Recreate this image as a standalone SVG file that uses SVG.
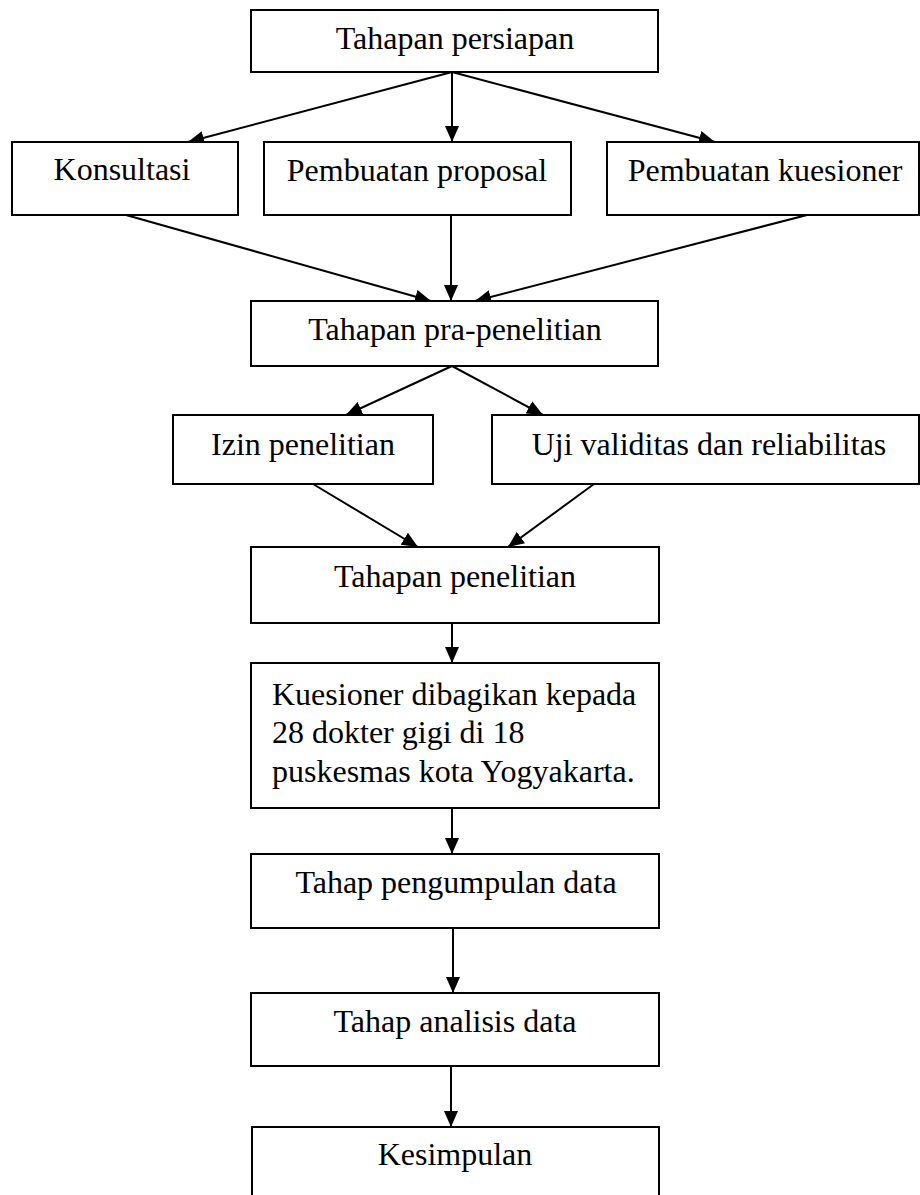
<svg xmlns="http://www.w3.org/2000/svg" width="920" height="1195" viewBox="0 0 920 1195">
<style>
.box{fill:#fff;stroke:#000;stroke-width:2}
.t{font-family:"Liberation Serif","Times New Roman",serif;font-size:32px;fill:#000;text-anchor:middle}
.tl{font-family:"Liberation Serif","Times New Roman",serif;font-size:32px;fill:#000;text-anchor:start}
.c{stroke:#000;stroke-width:2;fill:none;marker-end:url(#ah)}
</style>
<defs>
<marker id="ah" markerUnits="userSpaceOnUse" markerWidth="16" markerHeight="14" refX="16" refY="7" orient="auto">
<path d="M0,0 L16,7 L0,14 z" fill="#000"/>
</marker>
</defs>
<rect width="920" height="1195" fill="#fff"/>
<g id="connectors">
<line class="c" x1="452" y1="72" x2="188" y2="142"/>
<line class="c" x1="452" y1="72" x2="452" y2="142"/>
<line class="c" x1="452" y1="72" x2="715" y2="142"/>
<line class="c" x1="126" y1="215" x2="431" y2="301"/>
<line class="c" x1="451" y1="215" x2="451" y2="301"/>
<line class="c" x1="807" y1="215" x2="475" y2="301"/>
<line class="c" x1="452" y1="366" x2="346" y2="415"/>
<line class="c" x1="452" y1="366" x2="543" y2="415"/>
<line class="c" x1="313" y1="484" x2="418" y2="547"/>
<line class="c" x1="594" y1="484" x2="508" y2="547"/>
<line class="c" x1="452" y1="623" x2="452" y2="663"/>
<line class="c" x1="452" y1="796" x2="452" y2="854"/>
<line class="c" x1="453" y1="928" x2="453" y2="993"/>
<line class="c" x1="451" y1="1066" x2="451" y2="1127"/>
</g>
<g id="n1"><rect class="box" x="251" y="10" width="407" height="62"/><text class="t" x="455" y="49">Tahapan persiapan</text></g>
<g id="n2"><rect class="box" x="12" y="142" width="226" height="73"/><text class="t" x="122" y="180">Konsultasi</text></g>
<g id="n3"><rect class="box" x="264" y="142" width="307" height="73"/><text class="t" x="417" y="181">Pembuatan proposal</text></g>
<g id="n4"><rect class="box" x="607" y="142" width="312" height="73"/><text class="t" x="765" y="181">Pembuatan kuesioner</text></g>
<g id="n5"><rect class="box" x="251" y="301" width="407" height="65"/><text class="t" x="455" y="340">Tahapan pra-penelitian</text></g>
<g id="n6"><rect class="box" x="173" y="415" width="260" height="69"/><text class="t" x="303" y="455">Izin penelitian</text></g>
<g id="n7"><rect class="box" x="492" y="415" width="427" height="69"/><text class="t" x="709" y="455">Uji validitas dan reliabilitas</text></g>
<g id="n8"><rect class="box" x="251" y="547" width="408" height="76"/><text class="t" x="455" y="587">Tahapan penelitian</text></g>
<g id="n9"><rect class="box" x="251" y="663" width="408" height="145"/>
<text class="tl" x="272" y="705">Kuesioner dibagikan kepada</text>
<text class="tl" x="272" y="743">28 dokter gigi di 18</text>
<text class="tl" x="272" y="782">puskesmas kota Yogyakarta.</text></g>
<g id="n10"><rect class="box" x="251" y="854" width="408" height="74"/><text class="t" x="456" y="893">Tahap pengumpulan data</text></g>
<g id="n11"><rect class="box" x="251" y="993" width="408" height="73"/><text class="t" x="455" y="1032">Tahap analisis data</text></g>
<g id="n12"><rect class="box" x="252" y="1127" width="407" height="80"/><text class="t" x="455" y="1165">Kesimpulan</text></g>
</svg>
